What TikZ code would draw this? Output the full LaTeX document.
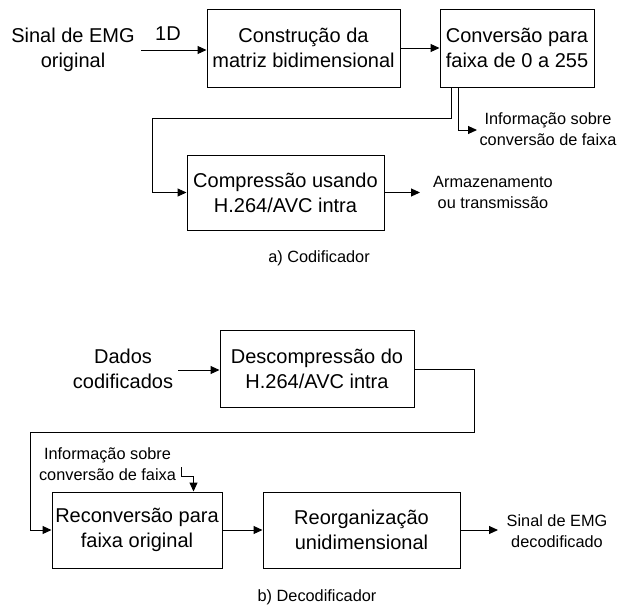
\documentclass[tikz,border=0pt]{standalone}
\usepackage{fontspec}
\setmainfont{Liberation Sans}
\usetikzlibrary{arrows.meta}
\begin{document}
\begin{tikzpicture}[x=1pt,y=-1pt,
  blk/.style={draw,line width=1pt,inner sep=0pt,align=center,font=\fontsize{20}{25}\selectfont},
  bigtxt/.style={inner sep=0pt,align=center,font=\fontsize{20}{25}\selectfont},
  smalltxt/.style={inner sep=0pt,align=center,font=\fontsize{16.3}{21}\selectfont},
  arr/.style={line width=1pt,-{Triangle[length=9pt,width=8pt]}},
  ln/.style={line width=1pt}]
\useasboundingbox (0,0) rectangle (620,605);
% encoder
\node[bigtxt] (src) at (73,49.5) {Sinal de EMG\\original};
\node[bigtxt] (oneD) at (168,34) {1D};
\node[blk,minimum width=193pt,minimum height=78pt] (A) at (303.5,48) {Construção da\\matriz bidimensional};
\node[blk,minimum width=154pt,minimum height=78pt] (B) at (517,48) {Conversão para\\faixa de 0 a 255};
\node[blk,minimum width=197pt,minimum height=75pt] (C) at (285.5,192.5) {Compressão usando\\H.264/AVC intra};
\node[smalltxt] (info1) at (548,129.5) {Informação sobre\\conversão de faixa};
\node[smalltxt] (store) at (493,192) {Armazenamento\\ou transmissão};
\node[smalltxt] (capa) at (319,258) {a) Codificador};
\coordinate (in1) at (141,50);
\coordinate (k1) at (152,118);
\coordinate (k2) at (477,130);
\coordinate (cout) at (420,192.5);
\draw[arr] (in1) -- (in1 -| A.west);
\draw[arr] (A.east) -- (B.west);
\draw[arr] ([xshift=12pt]B.south west) |- (k1) |- (C.west);
\draw[arr] ([xshift=19pt]B.south west) |- (k2);
\draw[arr] (C.east) -- (cout);
% decoder
\node[bigtxt] (dados) at (123,368.5) {Dados\\codificados};
\node[blk,minimum width=194pt,minimum height=77pt] (D) at (317,368.5) {Descompressão do\\H.264/AVC intra};
\node[blk,minimum width=170pt,minimum height=76pt] (E) at (137,530) {Reconversão para\\faixa original};
\node[blk,minimum width=197pt,minimum height=76pt] (F) at (361.5,530) {Reorganização\\unidimensional};
\node[smalltxt] (info2) at (107.5,464) {Informação sobre\\conversão de faixa};
\node[smalltxt] (dst) at (557,531) {Sinal de EMG\\decodificado};
\node[smalltxt] (capb) at (317,597) {b) Decodificador};
\coordinate (din) at (178,370);
\coordinate (k3) at (474,432);
\coordinate (k4) at (30,432);
\coordinate (k5) at (181,467);
\coordinate (fout) at (498,530);
\draw[arr] (din) -- (din -| D.west);
\draw[arr] ([yshift=-0.5pt]D.east) -| (k3) -- (k4) |- (E.west);
\draw[arr] (k5) -- ++(0,9) -| ([xshift=142pt]E.north west);
\draw[arr] (E.east) -- (F.west);
\draw[arr] (F.east) -- (fout);
\end{tikzpicture}
\end{document}
